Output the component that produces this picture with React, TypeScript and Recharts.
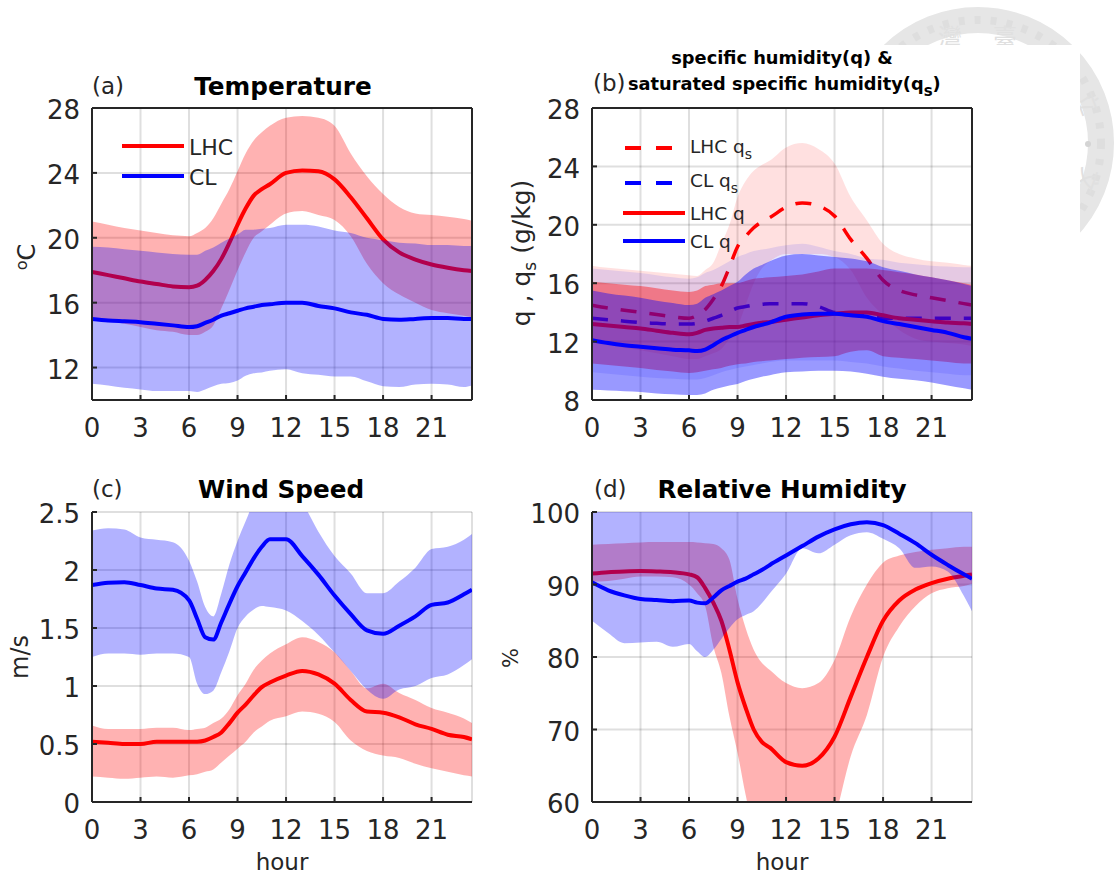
import React from 'react';
import { ComposedChart, Area, Line, XAxis, YAxis, CartesianGrid } from 'recharts';

const HOURS = [0, 1, 2, 3, 4, 5, 6, 6.5, 7, 7.5, 8, 8.5, 9, 9.5, 10, 10.5, 11, 12, 13, 14, 15, 16, 17, 18, 19, 20, 21, 22, 23, 23.5];
const HOUR_TICKS = [0, 3, 6, 9, 12, 15, 18, 21];

// (a) Temperature
const TEMP_TICKS = [12, 16, 20, 24, 28];
const tempLhc = [17.9, 17.7, 17.5, 17.3, 17.15, 17.0, 16.95, 17.05, 17.4, 17.95, 18.7, 19.7, 20.8, 21.8, 22.6, 23.0, 23.3, 24.0, 24.15, 24.1, 23.6, 22.5, 21.2, 19.9, 19.1, 18.65, 18.35, 18.15, 18.0, 17.95];
const tempLhcHigh = [21.0, 20.8, 20.6, 20.45, 20.3, 20.15, 20.1, 20.3, 20.6, 21.2, 22.1, 23.0, 24.1, 25.2, 26, 26.5, 26.9, 27.4, 27.5, 27.4, 26.9, 25.2, 23.8, 22.7, 21.9, 21.5, 21.4, 21.3, 21.15, 21.05];
const tempLhcLow = [15, 14.9, 14.7, 14.5, 14.3, 14.2, 14.0, 14.0, 14.2, 14.6, 15.65, 16.8, 18, 19.1, 20, 20.4, 20.8, 21.5, 21.65, 21.4, 21.1, 20.1, 18.4, 17.2, 16.5, 16, 15.55, 15.35, 15.2, 15.1];
const tempCl = [15, 14.9, 14.85, 14.8, 14.7, 14.6, 14.5, 14.55, 14.75, 14.95, 15.2, 15.35, 15.5, 15.65, 15.75, 15.85, 15.9, 16.0, 16.0, 15.8, 15.65, 15.4, 15.25, 15.0, 14.95, 15.0, 15.05, 15.05, 15.0, 15.0];
const tempClHigh = [19.45, 19.4, 19.3, 19.2, 19.1, 19.0, 18.95, 18.95, 19.2, 19.4, 19.7, 19.95, 20.2, 20.5, 20.5, 20.55, 20.6, 20.8, 20.8, 20.7, 20.45, 20.3, 20.0, 19.85, 19.7, 19.65, 19.55, 19.55, 19.5, 19.5];
const tempClLow = [11, 10.9, 10.75, 10.65, 10.55, 10.55, 10.55, 10.5, 10.65, 10.85, 11.0, 11.05, 11.2, 11.5, 11.65, 11.7, 11.8, 11.9, 11.65, 11.55, 11.45, 11.45, 11.15, 10.85, 10.8, 10.95, 11.0, 10.95, 10.8, 10.9];

// (b) Specific humidity
const HUM_TICKS = [8, 12, 16, 20, 24, 28];
const qsLhc = [14.5, 14.3, 14.15, 14, 13.85, 13.7, 13.6, 13.8, 14.2, 14.9, 15.8, 17.1, 18.5, 19.2, 19.8, 20.2, 20.5, 21.2, 21.5, 21.3, 20.6, 19, 17.7, 16.2, 15.5, 15.2, 15, 14.8, 14.6, 14.5];
const qsLhcHigh = [17.2, 17.05, 16.95, 16.85, 16.75, 16.65, 16.55, 16.5, 16.9, 17.4, 18.7, 20, 21.9, 23, 23.7, 24.1, 24.4, 25.3, 25.6, 25.2, 24.2, 21.9, 20.3, 18.7, 18, 17.7, 17.5, 17.4, 17.25, 17.2];
const qsLhcLow = [12, 11.8, 11.6, 11.4, 11.2, 11, 10.8, 10.8, 11, 11.2, 11.5, 12.2, 13, 14.5, 16, 17, 17.5, 18, 18, 18, 17.8, 16.9, 15, 13.8, 12.8, 12.2, 12, 11.9, 11.8, 11.7];
const qsCl = [13.6, 13.5, 13.4, 13.3, 13.25, 13.2, 13.2, 13.25, 13.4, 13.6, 13.8, 14.05, 14.3, 14.4, 14.5, 14.55, 14.6, 14.6, 14.6, 14.4, 14, 13.9, 13.8, 13.6, 13.6, 13.6, 13.6, 13.6, 13.6, 13.6];
const qsClHigh = [17.0, 16.9, 16.8, 16.7, 16.55, 16.4, 16.3, 16.4, 16.7, 16.9, 17.2, 17.5, 17.8, 18, 18.2, 18.3, 18.4, 18.6, 18.7, 18.5, 18.2, 18, 17.7, 17.6, 17.4, 17.3, 17.2, 17.15, 17.1, 17.1];
const qsClLow = [9.9, 9.8, 9.7, 9.6, 9.5, 9.45, 9.4, 9.4, 9.5, 9.7, 9.9, 10.05, 10.2, 10.3, 10.4, 10.5, 10.6, 10.7, 10.7, 10.7, 10.7, 10.6, 10.5, 10.3, 10.15, 10, 9.9, 9.8, 9.7, 9.7];
const qLhc = [13.2, 13.1, 13, 12.9, 12.75, 12.6, 12.5, 12.6, 12.8, 12.9, 12.95, 13, 13, 13.1, 13.2, 13.3, 13.35, 13.5, 13.65, 13.8, 13.9, 14, 14.0, 13.8, 13.6, 13.5, 13.4, 13.3, 13.25, 13.2];
const qLhcHigh = [16.1, 16, 15.9, 15.8, 15.65, 15.5, 15.4, 15.5, 15.8, 15.9, 16, 16, 16, 16.15, 16.3, 16.35, 16.4, 16.5, 16.6, 16.8, 17, 17, 17, 16.9, 16.75, 16.6, 16.4, 16.2, 16, 15.9];
const qLhcLow = [10.5, 10.4, 10.3, 10.2, 10.05, 9.95, 9.85, 9.9, 10, 10.1, 10.2, 10.35, 10.45, 10.5, 10.6, 10.65, 10.7, 10.8, 10.9, 10.95, 11, 11.3, 11.4, 11, 10.9, 10.8, 10.7, 10.6, 10.5, 10.5];
const qCl = [12.1, 11.9, 11.75, 11.65, 11.55, 11.45, 11.4, 11.35, 11.45, 11.75, 12.1, 12.35, 12.6, 12.8, 13, 13.15, 13.3, 13.7, 13.85, 13.9, 13.9, 13.8, 13.7, 13.4, 13.2, 13, 12.8, 12.6, 12.3, 12.2];
const qClHigh = [15.5, 15.3, 15.15, 15, 14.8, 14.65, 14.5, 14.6, 15, 15.25, 15.5, 15.8, 16.1, 16.6, 17, 17.25, 17.5, 17.9, 18, 17.9, 17.8, 17.7, 17.5, 17.1, 16.85, 16.6, 16.4, 16.2, 15.95, 15.8];
const qClLow = [8.7, 8.65, 8.6, 8.55, 8.45, 8.4, 8.35, 8.35, 8.45, 8.7, 8.85, 9, 9.1, 9.3, 9.45, 9.6, 9.7, 9.9, 9.95, 10, 10, 9.95, 9.8, 9.6, 9.45, 9.35, 9.2, 9, 8.8, 8.7];

// (c) Wind speed
const WIND_TICKS = [0, 0.5, 1, 1.5, 2, 2.5];
const windLhc = [0.52, 0.51, 0.5, 0.5, 0.52, 0.52, 0.52, 0.52, 0.53, 0.56, 0.6, 0.68, 0.77, 0.84, 0.92, 0.99, 1.03, 1.09, 1.13, 1.1, 1.02, 0.88, 0.78, 0.77, 0.73, 0.67, 0.63, 0.58, 0.56, 0.54];
const windLhcHigh = [0.66, 0.63, 0.63, 0.63, 0.64, 0.64, 0.62, 0.63, 0.64, 0.68, 0.72, 0.8, 0.92, 1.02, 1.14, 1.22, 1.28, 1.36, 1.42, 1.38, 1.29, 1.13, 0.98, 1.02, 0.94, 0.88, 0.81, 0.77, 0.72, 0.68];
const windLhcLow = [0.22, 0.21, 0.2, 0.21, 0.22, 0.21, 0.23, 0.24, 0.26, 0.28, 0.34, 0.4, 0.46, 0.52, 0.6, 0.65, 0.7, 0.74, 0.78, 0.76, 0.69, 0.53, 0.44, 0.4, 0.38, 0.33, 0.29, 0.26, 0.23, 0.22];
const windCl = [1.87, 1.89, 1.895, 1.87, 1.84, 1.83, 1.74, 1.58, 1.42, 1.4, 1.55, 1.71, 1.86, 1.98, 2.1, 2.2, 2.265, 2.265, 2.12, 1.96, 1.78, 1.62, 1.48, 1.45, 1.52, 1.6, 1.7, 1.72, 1.79, 1.83];
const windClHigh = [2.34, 2.36, 2.35, 2.28, 2.26, 2.24, 2.08, 1.9, 1.68, 1.6, 1.8, 2.05, 2.25, 2.42, 2.58, 2.65, 2.7, 2.72, 2.58, 2.33, 2.12, 1.97, 1.8, 1.8, 1.9, 2.02, 2.18, 2.2, 2.26, 2.31];
const windClLow = [1.25, 1.28, 1.28, 1.27, 1.28, 1.28, 1.25, 1.02, 0.93, 0.96, 1.12, 1.3, 1.5, 1.6, 1.66, 1.69, 1.68, 1.65, 1.56, 1.44, 1.29, 1.13, 0.97, 0.89, 0.97, 1.0, 1.07, 1.1, 1.18, 1.23];

// (d) Relative humidity
const RH_TICKS = [60, 70, 80, 90, 100];
const rhLhc = [91.5, 91.7, 91.8, 91.85, 91.8, 91.7, 91.4, 91.0, 89.5, 87.5, 85, 81, 76.5, 73, 70, 68.3, 67.5, 65.5, 65, 66, 69, 74.5, 80, 85, 87.8, 89.3, 90.2, 90.8, 91.2, 91.4];
const rhLhcHigh = [95.5, 95.6, 95.7, 95.8, 95.85, 95.85, 95.85, 95.8, 95.7, 95.6, 95, 93.4, 88, 84, 81, 79.2, 78.2, 76.4, 75.7, 76.4, 79.6, 85.6, 90, 93, 94, 94.5, 94.8, 95, 95.2, 95.2];
const rhLhcLow = [90.4, 90.5, 90.8, 91.1, 91.1, 91, 90, 88.8, 87, 81.5, 77.8, 71.8, 66.8, 61, 56, 53, 51, 49, 48.5, 50, 57.5, 66.3, 72, 80, 84.2, 87, 88.8, 89.5, 89.8, 90.1];
const rhCl = [90.3, 89.2, 88.5, 88, 87.85, 87.7, 87.8, 87.5, 87.4, 88.2, 89.2, 89.8, 90.4, 90.8, 91.4, 92, 92.7, 94, 95.3, 96.6, 97.6, 98.3, 98.6, 98.2, 97, 95.7, 94.1, 92.7, 91.4, 90.8];
const rhClHigh = [100, 100, 100, 100, 100, 100, 100, 100, 100, 100, 100, 100, 100, 100, 100, 100, 100, 100, 100, 100, 100, 100, 100, 100, 100, 100, 100, 100, 100, 100];
const rhClLow = [85, 83.3, 81.9, 82, 82.1, 81.4, 81.8, 80.8, 80, 81, 82.5, 84, 85.2, 85.8, 86.3, 87.4, 88.8, 91.5, 95, 94.3, 95.5, 96.8, 97.2, 96.3, 95, 92.3, 92.5, 91.8, 88.4, 86.3];

const RED = '#ff0000';
const BLUE = '#0000ff';
const INK = '#262626';
const FONT = '"DejaVu Sans", sans-serif';

interface Layer {
  color: string;
  mean: number[];
  high: number[];
  low: number[];
  bandOpacity: number;
  dashed?: boolean;
}

const tempLayers: Layer[] = [
  { color: RED, mean: tempLhc, high: tempLhcHigh, low: tempLhcLow, bandOpacity: 0.3 },
  { color: BLUE, mean: tempCl, high: tempClHigh, low: tempClLow, bandOpacity: 0.3 },
];
const humLayers: Layer[] = [
  { color: RED, mean: qsLhc, high: qsLhcHigh, low: qsLhcLow, bandOpacity: 0.12, dashed: true },
  { color: BLUE, mean: qsCl, high: qsClHigh, low: qsClLow, bandOpacity: 0.1, dashed: true },
  { color: RED, mean: qLhc, high: qLhcHigh, low: qLhcLow, bandOpacity: 0.4 },
  { color: BLUE, mean: qCl, high: qClHigh, low: qClLow, bandOpacity: 0.4 },
];
const windLayers: Layer[] = [
  { color: RED, mean: windLhc, high: windLhcHigh, low: windLhcLow, bandOpacity: 0.3 },
  { color: BLUE, mean: windCl, high: windClHigh, low: windClLow, bandOpacity: 0.3 },
];
const rhLayers: Layer[] = [
  { color: RED, mean: rhLhc, high: rhLhcHigh, low: rhLhcLow, bandOpacity: 0.3 },
  { color: BLUE, mean: rhCl, high: rhClHigh, low: rhClLow, bandOpacity: 0.3 },
];

interface PanelProps {
  left: number;
  top: number;
  height: number;
  layers: Layer[];
  yDomain: [number, number];
  yTicks: number[];
  box?: boolean;
}

function Panel({ left, top, height, layers, yDomain, yTicks, box }: PanelProps) {
  const data = HOURS.map((hour, i) => {
    const row: Record<string, any> = { hour };
    layers.forEach((l, k) => {
      row[`mean${k}`] = l.mean[i];
      row[`band${k}`] = [l.low[i], l.high[i]];
    });
    return row;
  });

  const tickStyle = { fontSize: 26, fill: INK, fontFamily: FONT };
  const axisLine = { stroke: INK, strokeWidth: 2 };
  const tickLine = { stroke: INK, strokeWidth: 2 };

  return (
    <div style={{ position: 'absolute', left, top }}>
      <ComposedChart
        width={500}
        height={height}
        data={data}
        margin={{ top: box ? 29 : 30, right: box ? 27 : 28, left: 0, bottom: 0 }}
      >
        <CartesianGrid stroke={INK} strokeOpacity={0.15} strokeWidth={2} />
        <XAxis
          dataKey="hour"
          type="number"
          domain={[0, 23.5]}
          ticks={HOUR_TICKS}
          interval={0}
          height={60}
          tick={tickStyle}
          tickSize={-5}
          tickMargin={24}
          axisLine={axisLine}
          tickLine={tickLine}
          allowDataOverflow
        />
        <YAxis
          type="number"
          domain={yDomain}
          ticks={yTicks}
          interval={0}
          width={92}
          tick={{ ...tickStyle, dy: 2 }}
          tickSize={-5}
          tickMargin={17}
          axisLine={axisLine}
          tickLine={tickLine}
          allowDataOverflow
        />
        {box && (
          <XAxis
            xAxisId="top"
            orientation="top"
            type="number"
            domain={[0, 23.5]}
            ticks={HOUR_TICKS}
            interval={0}
            height={1}
            tick={false}
            tickSize={-5}
            axisLine={axisLine}
            tickLine={tickLine}
          />
        )}
        {box && (
          <YAxis
            yAxisId="right"
            orientation="right"
            type="number"
            domain={yDomain}
            ticks={yTicks}
            interval={0}
            width={1}
            tick={false}
            tickSize={-5}
            axisLine={axisLine}
            tickLine={tickLine}
          />
        )}
        {layers.flatMap((l, k) => [
          <Area
            key={`band${k}`}
            dataKey={`band${k}`}
            type="monotone"
            stroke="none"
            fill={l.color}
            fillOpacity={l.bandOpacity}
            isAnimationActive={false}
            dot={false}
            activeDot={false}
            zIndex={100 + k * 2}
          />,
          <Line
            key={`mean${k}`}
            dataKey={`mean${k}`}
            type="monotone"
            stroke={l.color}
            strokeWidth={l.dashed ? 3.5 : 4}
            strokeDasharray={l.dashed ? '16 13' : undefined}
            dot={false}
            activeDot={false}
            isAnimationActive={false}
            zIndex={101 + k * 2}
          />,
        ])}
      </ComposedChart>
    </div>
  );
}

// panel titles, axis names and legends sit on one overlay
function Annotations() {
  const text = { fontFamily: FONT, fill: INK };
  const bold = { fontFamily: FONT, fill: '#000', fontWeight: 700 };
  return (
    <svg width={1117} height={877} style={{ position: 'absolute', left: 0, top: 0 }}>
      <text {...text} x={92} y={94} fontSize={23}>(a)</text>
      <text {...bold} x={283} y={95} fontSize={24.7} textAnchor="middle">Temperature</text>
      <text {...text} x={593} y={91} fontSize={23}>(b)</text>
      <text {...bold} x={782} y={64} fontSize={17.8} textAnchor="middle">specific humidity(q) &amp;</text>
      <text {...bold} x={628} y={90} fontSize={17.8}>
        saturated specific humidity(q<tspan dy={6} fontSize={15}>s</tspan><tspan dy={-6}>)</tspan>
      </text>
      <text {...text} x={92} y={497} fontSize={23}>(c)</text>
      <text {...bold} x={281} y={498} fontSize={24.7} textAnchor="middle">Wind Speed</text>
      <text {...text} x={594} y={497} fontSize={23}>(d)</text>
      <text {...bold} x={782} y={498} fontSize={24.7} textAnchor="middle">Relative Humidity</text>
      <text {...text} x={282} y={870} fontSize={23} textAnchor="middle">hour</text>
      <text {...text} x={782} y={870} fontSize={23} textAnchor="middle">hour</text>

      <text {...text} transform="translate(35 257) rotate(-90)" fontSize={24} textAnchor="middle">
        <tspan dy={-8} fontSize={16}>o</tspan>
        <tspan dy={8}>C</tspan>
      </text>
      <text {...text} transform="translate(530 253) rotate(-90)" fontSize={25} textAnchor="middle">
        q , q<tspan dy={6} fontSize={17}>s</tspan><tspan dy={-6}>{'  (g/kg)'}</tspan>
      </text>
      <text {...text} transform="translate(28 657) rotate(-90)" fontSize={24} textAnchor="middle">m/s</text>
      <text {...text} transform="translate(518 658) rotate(-90)" fontSize={21} textAnchor="middle">%</text>

      <line x1={122} x2={184} y1={146} y2={146} stroke={RED} strokeWidth={4} />
      <line x1={122} x2={184} y1={176} y2={176} stroke={BLUE} strokeWidth={4} />
      <text {...text} x={189} y={155} fontSize={22}>LHC</text>
      <text {...text} x={189} y={185} fontSize={22}>CL</text>

      <line x1={625} x2={672} y1={148} y2={148} stroke={RED} strokeWidth={4} strokeDasharray="16 15" />
      <line x1={625} x2={672} y1={183} y2={183} stroke={BLUE} strokeWidth={4} strokeDasharray="16 15" />
      <line x1={623} x2={685} y1={213} y2={213} stroke={RED} strokeWidth={4} />
      <line x1={623} x2={685} y1={241} y2={241} stroke={BLUE} strokeWidth={4} />
      <text {...text} x={690} y={153} fontSize={18.5}>LHC q<tspan dy={6} fontSize={14}>s</tspan></text>
      <text {...text} x={690} y={187} fontSize={18.5}>CL q<tspan dy={6} fontSize={14}>s</tspan></text>
      <text {...text} x={690} y={220} fontSize={18.5}>LHC q</text>
      <text {...text} x={690} y={248} fontSize={18.5}>CL q</text>
    </svg>
  );
}

// faint seal behind the figure, cut off by the figure's white page
function Watermark() {
  const mark = { fontFamily: '"Noto Sans CJK TC"', fontSize: 24, fill: '#e0e0e0', textAnchor: 'middle' as const };
  return (
    <svg width={1117} height={877} style={{ position: 'absolute', left: 0, top: 0 }}>
      <circle cx={978} cy={143} r={123} fill="none" stroke="#e6e6e6" strokeWidth={26} />
      <circle cx={978} cy={143} r={123} fill="none" stroke="#dedede" strokeWidth={8} strokeDasharray="6 10" />
      <text {...mark} x={950} y={46}>灣</text>
      <text {...mark} x={1005} y={46}>臺</text>
      <text {...mark} x={1087} y={111} transform="rotate(70 1087 103)">立</text>
      <text {...mark} x={1087} y={188} transform="rotate(110 1087 180)">文</text>
      <circle cx={1088} cy={144} r={3} fill="#d4d4d4" />
      <rect x={0} y={45} width={1080} height={832} fill="#fff" />
      <rect x={0} y={241} width={1117} height={636} fill="#fff" />
    </svg>
  );
}

export default function App() {
  return (
    <div style={{ position: 'absolute', left: 0, top: 0, width: 1117, height: 877, overflow: 'hidden', background: '#fff' }}>
      <Watermark />
      <Panel left={0} top={78} height={382} layers={tempLayers} yDomain={[10, 28]} yTicks={TEMP_TICKS} box />
      <Panel left={500} top={78} height={382} layers={humLayers} yDomain={[8, 28]} yTicks={HUM_TICKS} box />
      <Panel left={0} top={482} height={380} layers={windLayers} yDomain={[0, 2.5]} yTicks={WIND_TICKS} />
      <Panel left={500} top={482} height={380} layers={rhLayers} yDomain={[60, 100]} yTicks={RH_TICKS} />
      <Annotations />
    </div>
  );
}
